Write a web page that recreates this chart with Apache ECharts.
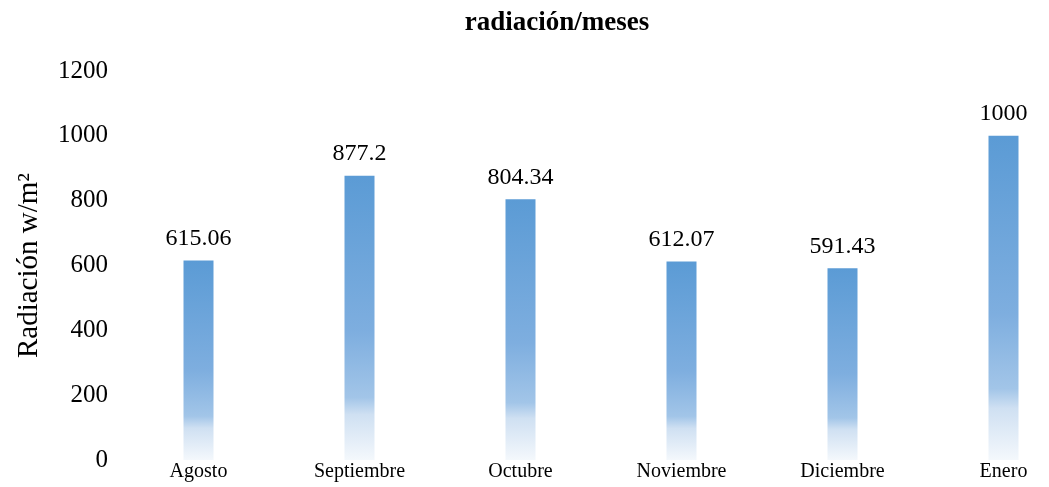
<!DOCTYPE html>
<html style="height: 100%">
<head>
    <meta charset="utf-8">
</head>
<body style="height: 100%; margin: 0">
<div id="main" style="width: 1049px; height: 487px;"></div>
<script type="text/javascript" src="https://cdn.jsdelivr.net/npm/echarts@6/dist/echarts.min.js"></script>
<script type="text/javascript">
    const meses = ['Agosto', 'Septiembre', 'Octubre', 'Noviembre', 'Diciembre', 'Enero'];
    const radiacion = [615.06, 877.2, 804.34, 612.07, 591.43, 1000];
    const etiquetas = ['615.06', '877.2', '804.34', '612.07', '591.43', '1000'];

    var chart = echarts.init(document.getElementById('main'));
    var fuente = '"Liberation Serif", "Times New Roman", serif';

    var option = {
        animation: false,
        title: {
            text: 'radiación/meses',
            left: 552,
            top: 5,
            textAlign: 'center',
            textStyle: {
                fontFamily: fuente,
                fontWeight: 'bold',
                fontSize: 27,
                color: '#000'
            }
        },
        grid: {
            left: 118,
            top: 71,
            width: 966,
            height: 389,
            outerBoundsMode: 'none'
        },
        xAxis: {
            type: 'category',
            data: meses,
            axisLine: { show: false },
            axisTick: { show: false },
            axisLabel: {
                fontFamily: fuente,
                fontSize: 20,
                color: '#000',
                margin: 2,
                interval: 0
            }
        },
        yAxis: {
            type: 'value',
            min: 0,
            max: 1200,
            interval: 200,
            name: 'Radiación w/m²',
            nameLocation: 'middle',
            nameGap: 74,
            nameTextStyle: {
                fontFamily: fuente,
                fontSize: 29,
                color: '#000'
            },
            splitLine: { show: false },
            axisLine: { show: false },
            axisTick: { show: false },
            axisLabel: {
                fontFamily: fuente,
                fontSize: 25,
                color: '#000',
                margin: 10,
                formatter: function (v) { return String(v); }
            }
        },
        series: [{
            type: 'bar',
            data: radiacion,
            barWidth: 30,
            itemStyle: {
                color: new echarts.graphic.LinearGradient(0, 0, 0, 1, [
                    { offset: 0, color: '#5b9bd5' },
                    { offset: 0.55, color: '#7eaedf' },
                    { offset: 0.78, color: '#a2c5e8' },
                    { offset: 0.84, color: '#cfe0f2' },
                    { offset: 1, color: '#f4f8fc' }
                ])
            },
            label: {
                show: true,
                position: 'top',
                distance: 10,
                fontFamily: fuente,
                fontSize: 24,
                color: '#000',
                formatter: function (p) {
                    return etiquetas[p.dataIndex];
                }
            }
        }]
    };

    chart.setOption(option);
</script>
</body>
</html>
